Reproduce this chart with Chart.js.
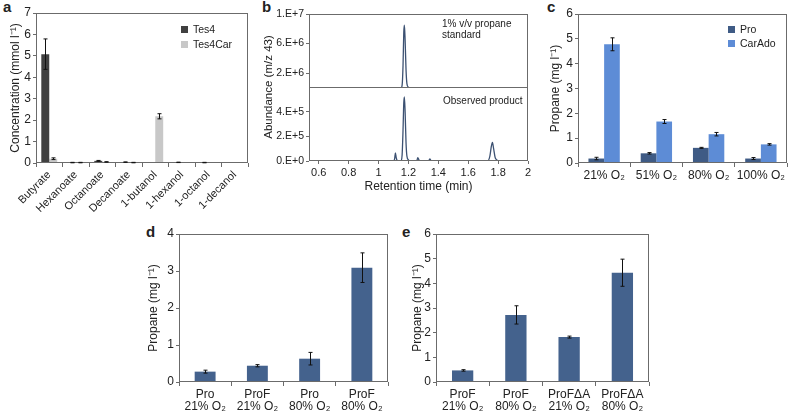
<!DOCTYPE html>
<html>
<head>
<meta charset="utf-8">
<script src="https://cdn.jsdelivr.net/npm/chart.js@4.4.1/dist/chart.umd.min.js"></script>
<style>
    body { margin: 0; background: #fff; width: 788px; height: 418px; overflow: hidden; position: relative;
           font-family: 'Liberation Sans', Arial, sans-serif; color: #222; }
    .panel { position: absolute; }
    .letter { position: absolute; font-weight: bold; font-size: 15px; line-height: 1; }
    .note { position: absolute; font-size: 10px; line-height: 11px; white-space: nowrap; }
    .key { position: absolute; font-size: 10.5px; line-height: 11px; white-space: nowrap; }
    .key span { display: inline-block; width: 7px; height: 7px; margin-right: 5px; }
    .vtitle { position: absolute; font-size: 11.5px; white-space: nowrap; transform: translate(-50%, -50%) rotate(-90deg); }
</style>
</head>
<body>
<div class="letter" style="left:3px;top:-1px">a</div>
<div class="letter" style="left:262px;top:-1px">b</div>
<div class="letter" style="left:547px;top:-1px">c</div>
<div class="letter" style="left:146px;top:224px">d</div>
<div class="letter" style="left:402px;top:224px">e</div>

<div class="panel" style="left:4px;top:0;width:248px;height:217px"><canvas id="chart-a"></canvas></div>
<div class="panel" style="left:255px;top:0;width:280px;height:89px"><canvas id="chart-b-top"></canvas></div>
<div class="panel" style="left:255px;top:87px;width:280px;height:111px"><canvas id="chart-b-bottom"></canvas></div>
<div class="panel" style="left:544px;top:0;width:244px;height:200px"><canvas id="chart-c"></canvas></div>
<div class="panel" style="left:142px;top:220px;width:250px;height:198px"><canvas id="chart-d"></canvas></div>
<div class="panel" style="left:406px;top:220px;width:247px;height:198px"><canvas id="chart-e"></canvas></div>

<div class="key" style="left:181px;top:24px"><span style="background:#404040"></span>Tes4</div>
<div class="key" style="left:181px;top:39px"><span style="background:#c8c8c8"></span>Tes4Car</div>
<div class="key" style="left:728px;top:24px"><span style="background:#3f5b85"></span>Pro</div>
<div class="key" style="left:728px;top:38px"><span style="background:#5d8cd6"></span>CarAdo</div>

<div class="note" style="left:442px;top:18px">1% v/v propane<br>standard</div>
<div class="note" style="left:443px;top:95px">Observed product</div>
<div class="vtitle" style="left:268px;top:87px">Abundance (m/z 43)</div>

<script>
// panel a
const fattyCategories = ['Butyrate', 'Hexanoate', 'Octanoate', 'Decanoate', '1-butanol', '1-hexanol', '1-octanol', '1-decanol'];
const tes4Values = [5.08, 0.02, 0.10, 0.04, 0, 0.03, 0.02, 0.01];
const tes4Errors = [0.71, 0.01, 0.02, 0.01, 0, 0.01, 0.01, 0];
const tes4CarValues = [0.20, 0.02, 0.05, 0.02, 2.18, 0.01, 0.01, 0.01];
const tes4CarErrors = [0.04, 0.01, 0.01, 0.01, 0.12, 0, 0, 0];

// panel b
const xTicksB = [0.6, 0.8, 1, 1.2, 1.4, 1.6, 1.8, 2];
const standardTimes = [0.53, 1.15, 1.158, 1.164, 1.169, 1.173, 1.178, 1.184, 1.19, 1.2, 1.21, 2.0];
const standardAbundance = [0, 0, 4e5, 3e6, 7.5e6, 8.5e6, 6.5e6, 2.5e6, 6e5, 1e5, 0, 0];
const productTimes = [0.53, 1.10, 1.108, 1.113, 1.118, 1.124, 1.13, 1.15, 1.158, 1.164, 1.169, 1.173, 1.178, 1.184,
    1.19, 1.2, 1.21, 1.255, 1.263, 1.27, 1.28, 1.335, 1.343, 1.35, 1.36, 1.73, 1.745, 1.755, 1.762, 1.77, 1.78, 1.79, 1.8, 2.0];
const productAbundance = [0, 0, 2e4, 6.5e4, 3e4, 5e3, 0, 0, 5e4, 2.5e5, 4.7e5, 5.2e5, 4e5, 1.5e5,
    4e4, 1e4, 0, 0, 2.8e4, 1e4, 0, 0, 1.8e4, 5e3, 0, 0, 4e4, 1.2e5, 1.5e5, 1e5, 3e4, 1e4, 0, 0];
const standardTickValues = [2e6, 6e6, 1e7];
const standardTickLabels = ['2.E+6', '6.E+6', '1.E+7'];
const productTickValues = [0, 2e5, 4e5];
const productTickLabels = ['0.E+0', '2.E+5', '4.E+5'];

// panel c
const oxygenLevels = ['21% O₂', '51% O₂', '80% O₂', '100% O₂'];
const proValues = [0.18, 0.39, 0.61, 0.18];
const proErrors = [0.05, 0.03, 0.02, 0.04];
const carAdoValues = [4.78, 1.67, 1.16, 0.75];
const carAdoErrors = [0.26, 0.08, 0.07, 0.03];

// panel d
const strainsD = [['Pro', '21% O₂'], ['ProF', '21% O₂'], ['Pro', '80% O₂'], ['ProF', '80% O₂']];
const valuesD = [0.28, 0.44, 0.63, 3.09];
const errorsD = [0.04, 0.03, 0.17, 0.40];

// panel e
const strainsE = [['ProF', '21% O₂'], ['ProF', '80% O₂'], ['ProFΔA', '21% O₂'], ['ProFΔA', '80% O₂']];
const valuesE = [0.47, 2.72, 1.82, 4.43];
const errorsE = [0.03, 0.37, 0.04, 0.55];

Chart.defaults.font.family = "'Liberation Sans', Arial, sans-serif";
Chart.defaults.font.size = 12;
Chart.defaults.color = '#222';

const axisGray = '#6b6b6b';

function fixWidth(w) {
    return function (scale) { scale.width = w; scale.paddingTop = 0; scale.paddingBottom = 0; };
}

function fixHeight(h) {
    return function (scale) { scale.height = h; scale.paddingLeft = 0; scale.paddingRight = 0; };
}

const framePlugin = {
    id: 'frame',
    afterDatasetsDraw(chart) {
        const a = chart.chartArea;
        const ctx = chart.ctx;
        ctx.save();
        ctx.strokeStyle = axisGray;
        ctx.lineWidth = 1;
        ctx.strokeRect(Math.round(a.left) + 0.5, Math.round(a.top) + 0.5,
            Math.round(a.right - a.left) - 1, Math.round(a.bottom - a.top) - 1);
        ctx.restore();
    }
};

const errorBarPlugin = {
    id: 'errorBars',
    afterDatasetsDraw(chart) {
        const ctx = chart.ctx;
        const y = chart.scales.y;
        ctx.save();
        ctx.strokeStyle = '#111';
        ctx.lineWidth = 1;
        chart.data.datasets.forEach((ds, i) => {
            if (!ds.errors) return;
            chart.getDatasetMeta(i).data.forEach((bar, j) => {
                const e = ds.errors[j];
                if (!e) return;
                const v = ds.data[j];
                const top = y.getPixelForValue(v + e);
                const bottom = y.getPixelForValue(Math.max(v - e, 0));
                const x = Math.round(bar.x) + 0.5;
                ctx.beginPath();
                ctx.moveTo(x, top); ctx.lineTo(x, bottom);
                ctx.moveTo(x - 2, top); ctx.lineTo(x + 2, top);
                ctx.moveTo(x - 2, bottom); ctx.lineTo(x + 2, bottom);
                ctx.stroke();
            });
        });
        ctx.restore();
    }
};

function createBarChart(id, labels, datasets, yMax, yTitle, box) {
    return new Chart(document.getElementById(id), {
        type: 'bar',
        data: { labels: labels, datasets: datasets },
        options: {
            responsive: true,
            maintainAspectRatio: false,
            animation: false,
            layout: { padding: { top: box.top, right: box.right, left: 0, bottom: 0 } },
            plugins: { legend: { display: false }, tooltip: { enabled: false } },
            scales: {
                x: {
                    grid: { display: true, drawOnChartArea: false, tickLength: 4, color: axisGray, offset: true },
                    border: { display: false },
                    ticks: { autoSkip: false, maxRotation: box.rot, minRotation: box.rot, padding: 2,
                        font: { size: box.xFont || 12, lineHeight: 1.05 } },
                    afterFit: fixHeight(box.xh)
                },
                y: {
                    min: 0,
                    max: yMax,
                    ticks: { stepSize: 1, padding: 2 },
                    grid: { display: true, drawOnChartArea: false, tickLength: 3, color: axisGray },
                    border: { display: false },
                    title: { display: true, text: yTitle, padding: { top: 4, bottom: 4 } },
                    afterFit: fixWidth(box.yw)
                }
            }
        },
        plugins: [framePlugin, errorBarPlugin]
    });
}

function createTraceChart(id, times, values, yMax, tickValues, tickLabels, box, showX) {
    const points = times.map((t, i) => ({ x: t, y: values[i] }));
    return new Chart(document.getElementById(id), {
        type: 'line',
        data: {
            datasets: [{
                data: points,
                borderColor: '#3c5172',
                borderWidth: 1.3,
                pointRadius: 0,
                cubicInterpolationMode: 'monotone'
            }]
        },
        options: {
            responsive: true,
            maintainAspectRatio: false,
            animation: false,
            layout: { padding: { top: box.top, right: box.right, left: 0, bottom: 0 } },
            plugins: { legend: { display: false }, tooltip: { enabled: false } },
            scales: {
                x: {
                    type: 'linear',
                    min: 0.535,
                    max: 2,
                    afterBuildTicks: scale => { scale.ticks = xTicksB.map(v => ({ value: v })); },
                    ticks: { display: showX, padding: 2, font: { size: 11 }, callback: v => String(v) },
                    grid: { display: showX, drawOnChartArea: false, tickLength: 3, color: axisGray },
                    border: { display: false },
                    title: { display: showX, text: 'Retention time (min)', padding: { top: 2, bottom: 4 } },
                    afterFit: fixHeight(box.xh)
                },
                y: {
                    min: 0,
                    max: yMax,
                    afterBuildTicks: scale => { scale.ticks = tickValues.map(v => ({ value: v })); },
                    ticks: { padding: 2, font: { size: 10.5 }, callback: v => tickLabels[tickValues.indexOf(v)] },
                    grid: { display: true, drawOnChartArea: false, tickLength: 3, color: axisGray },
                    border: { display: false },
                    afterFit: fixWidth(box.yw)
                }
            }
        },
        plugins: [framePlugin]
    });
}

createBarChart('chart-a', fattyCategories, [
    { label: 'Tes4', data: tes4Values, errors: tes4Errors, backgroundColor: '#404040',
        categoryPercentage: 0.6, barPercentage: 1 },
    { label: 'Tes4Car', data: tes4CarValues, errors: tes4CarErrors, backgroundColor: '#c8c8c8',
        categoryPercentage: 0.6, barPercentage: 1 }
], 7, 'Concentration (mmol l⁻¹)', { top: 13, right: 4, yw: 32, xh: 54, rot: 45, xFont: 11 });

createTraceChart('chart-b-top', standardTimes, standardAbundance, 1e7, standardTickValues, standardTickLabels,
    { top: 14, right: 7, yw: 54, xh: 1 }, false);
createTraceChart('chart-b-bottom', productTimes, productAbundance, 6e5, productTickValues, productTickLabels,
    { top: 0, right: 7, yw: 54, xh: 37 }, true);

createBarChart('chart-c', oxygenLevels, [
    { label: 'Pro', data: proValues, errors: proErrors, backgroundColor: '#3f5b85',
        categoryPercentage: 0.6, barPercentage: 1 },
    { label: 'CarAdo', data: carAdoValues, errors: carAdoErrors, backgroundColor: '#5d8cd6',
        categoryPercentage: 0.6, barPercentage: 1 }
], 6, 'Propane (mg l⁻¹)', { top: 14, right: 1, yw: 34, xh: 37, rot: 0 });

createBarChart('chart-d', strainsD, [
    { label: 'Propane', data: valuesD, errors: errorsD, backgroundColor: '#44628d',
        categoryPercentage: 1, barPercentage: 0.4 }
], 4, 'Propane (mg l⁻¹)', { top: 14, right: 4, yw: 37, xh: 36, rot: 0 });

createBarChart('chart-e', strainsE, [
    { label: 'Propane', data: valuesE, errors: errorsE, backgroundColor: '#44628d',
        categoryPercentage: 1, barPercentage: 0.4 }
], 6, 'Propane (mg l⁻¹)', { top: 14, right: 4, yw: 30, xh: 36, rot: 0 });
</script>
</body>
</html>
